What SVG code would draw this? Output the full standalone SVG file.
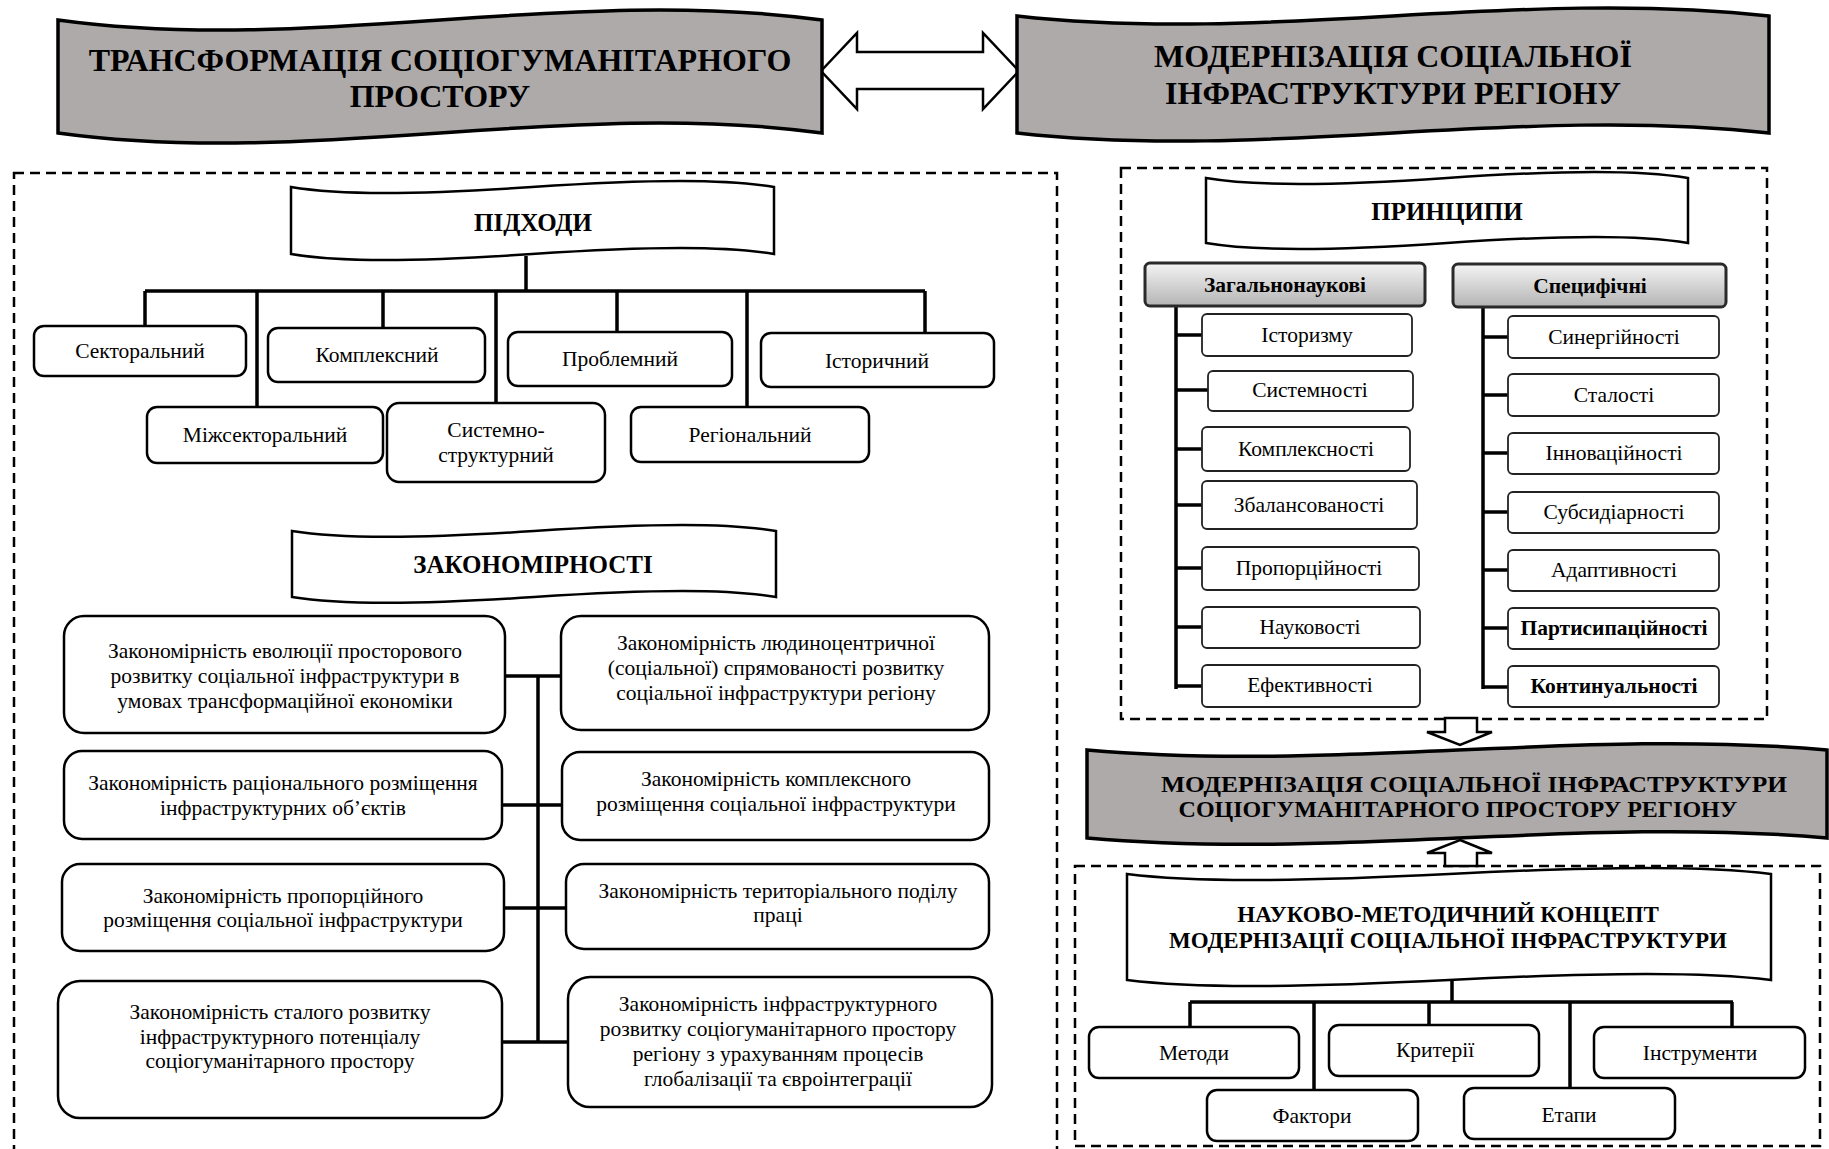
<svg xmlns="http://www.w3.org/2000/svg" width="1829" height="1149" viewBox="0 0 1829 1149">
<defs>
<style>
text{font-family:"Liberation Serif","Times New Roman",serif;fill:#000;text-anchor:middle}
.t{font-size:21.5px}
.tb{font-size:21.5px;font-weight:bold}
.h1{font-size:32px;font-weight:bold}
.h2{font-size:25px;font-weight:bold}
.h3{font-size:24px;font-weight:bold}
.h4{font-size:23px;font-weight:bold}
.gray{fill:#aeaaaa;stroke:#000;stroke-width:3.5}
.scroll{fill:#fff;stroke:#000;stroke-width:2.5}
.box{fill:#fff;stroke:#000;stroke-width:2.5}
.pbox{fill:#fff;stroke:#222;stroke-width:1.8}
.hdr{fill:url(#g);stroke:#2a2a2a;stroke-width:3}
.dash{fill:none;stroke:#000;stroke-width:2.5;stroke-dasharray:10 6}
.ln{fill:none;stroke:#000;stroke-width:3.5}
.blk{fill:#fff;stroke:#000;stroke-width:2.5;stroke-linejoin:miter}
</style>
<linearGradient id="g" x1="0" y1="0" x2="0" y2="1">
<stop offset="0" stop-color="#f4f4f4"/>
<stop offset="1" stop-color="#b4b4b4"/>
</linearGradient>
</defs>
<rect width="1829" height="1149" fill="#fff"/>

<!-- containers -->
<g id="containers">
<rect class="dash" x="14" y="173" width="1043" height="1000"/>
<rect class="dash" x="1121" y="168" width="646" height="551"/>
<rect class="dash" x="1075" y="866" width="745" height="280"/>
</g>

<!-- connectors -->
<g id="connectors">
<polygon class="blk" points="821,71 857,33 857,52 983,52 983,33 1019,71 983,109 983,89 857,89 857,109"/>
<polygon class="blk" points="1445,718 1477,718 1477,732 1492,732 1460,745 1427,732 1445,732"/>
<polygon class="blk" points="1460,840 1492,853 1477,853 1477,866 1445,866 1445,853 1427,853"/>
<path class="ln" d="M526,256 V291 M145,291 H925 M145,291 V326 M257,291 V407 M383,291 V328 M496,291 V403 M617,291 V332 M747,291 V407 M925,291 V333"/>
<path class="ln" d="M538,676 V1042 M505,676 H561 M502,805 H562 M504,908 H566 M502,1042 H568"/>
<path class="ln" d="M1176,306 V689 M1176,335 H1202 M1176,390 H1208 M1176,449 H1202 M1176,505 H1202 M1176,568 H1202 M1176,627 H1202 M1176,686 H1202"/>
<path class="ln" d="M1483,307 V689 M1483,337 H1508 M1483,395 H1508 M1483,453 H1508 M1483,512 H1508 M1483,570 H1508 M1483,628 H1508 M1483,687 H1508"/>
<path class="ln" d="M1452,975 V1002 M1190,1002 H1733 M1190,1002 V1027 M1314,1002 V1090 M1429,1002 V1025 M1570,1002 V1088 M1732,1002 V1027"/>
</g>

<!-- title banners -->
<g id="title-transform">
<path class="gray" d="M58,20 C312.7,55 567.3,-15 822,20 L822,133 C567.3,98 312.7,168 58,133 Z"/>
<text class="h1" x="440" y="71">ТРАНСФОРМАЦІЯ СОЦІОГУМАНІТАРНОГО</text>
<text class="h1" x="440" y="107">ПРОСТОРУ</text>
</g>
<g id="title-modern">
<path class="gray" d="M1017,16 C1267.7,44 1518.3,-12 1769,16 L1769,133 C1518.3,105 1267.7,161 1017,133 Z"/>
<text class="h1" x="1393" y="67">МОДЕРНІЗАЦІЯ СОЦІАЛЬНОЇ</text>
<text class="h1" x="1393" y="104">ІНФРАСТРУКТУРИ РЕГІОНУ</text>
</g>
<g id="title-result">
<path class="gray" d="M1087,750 C1334.3,772 1581.7,728 1827,750 L1827,838 C1581.7,816 1334.3,860 1087,838 Z"/>
<text class="h3" x="1474" y="792" textLength="626" lengthAdjust="spacingAndGlyphs">МОДЕРНІЗАЦІЯ СОЦІАЛЬНОЇ ІНФРАСТРУКТУРИ</text>
<text class="h3" x="1458" y="817">СОЦІОГУМАНІТАРНОГО ПРОСТОРУ РЕГІОНУ</text>
</g>

<!-- approaches -->
<g id="approaches">
<path class="scroll" d="M291,187 C339,195 412,195 532,187 C653,179 726,179 774,187 L774,254 C726,246 653,246 532,254 C412,262 339,262 291,254 Z"/>
<text class="h2" x="533" y="231">ПІДХОДИ</text>
</g>
<g id="a-sector"><rect class="box" x="34" y="326" width="212" height="50" rx="10"/><text class="t" x="140" y="358">Секторальний</text></g>
<g id="a-intersector"><rect class="box" x="147" y="407" width="236" height="56" rx="10"/><text class="t" x="265" y="442">Міжсекторальний</text></g>
<g id="a-complex"><rect class="box" x="268" y="328" width="217" height="54" rx="10"/><text class="t" x="377" y="362">Комплексний</text></g>
<g id="a-system"><rect class="box" x="387" y="403" width="218" height="79" rx="12"/><text class="t" x="496" y="437">Системно-</text><text class="t" x="496" y="462">структурний</text></g>
<g id="a-problem"><rect class="box" x="508" y="332" width="224" height="54" rx="10"/><text class="t" x="620" y="366">Проблемний</text></g>
<g id="a-regional"><rect class="box" x="631" y="407" width="238" height="55" rx="10"/><text class="t" x="750" y="442">Регіональний</text></g>
<g id="a-historic"><rect class="box" x="761" y="333" width="233" height="54" rx="10"/><text class="t" x="877" y="368">Історичний</text></g>

<!-- laws -->
<g id="laws">
<path class="scroll" d="M292,531 C340,539 414,539 534,531 C655,523 728,523 776,531 L776,597 C728,589 655,589 534,597 C414,605 340,605 292,597 Z"/>
<text class="h2" x="533" y="573">ЗАКОНОМІРНОСТІ</text>
</g>
<g id="l1"><rect class="box" x="64" y="616" width="441" height="117" rx="20"/>
<text class="t" x="285" y="658">Закономірність еволюції просторового</text>
<text class="t" x="285" y="683">розвитку соціальної інфраструктури в</text>
<text class="t" x="285" y="708">умовах трансформаційної економіки</text></g>
<g id="l2"><rect class="box" x="64" y="751" width="438" height="88" rx="18"/>
<text class="t" x="283" y="790">Закономірність раціонального розміщення</text>
<text class="t" x="283" y="815">інфраструктурних об’єктів</text></g>
<g id="l3"><rect class="box" x="62" y="864" width="442" height="87" rx="18"/>
<text class="t" x="283" y="903">Закономірність пропорційного</text>
<text class="t" x="283" y="927">розміщення соціальної інфраструктури</text></g>
<g id="l4"><rect class="box" x="58" y="981" width="444" height="137" rx="22"/>
<text class="t" x="280" y="1019">Закономірність сталого розвитку</text>
<text class="t" x="280" y="1044">інфраструктурного потенціалу</text>
<text class="t" x="280" y="1068">соціогуманітарного простору</text></g>
<g id="r1"><rect class="box" x="561" y="616" width="428" height="114" rx="20"/>
<text class="t" x="776" y="650">Закономірність людиноцентричної</text>
<text class="t" x="776" y="675">(соціальної) спрямованості розвитку</text>
<text class="t" x="776" y="700">соціальної інфраструктури регіону</text></g>
<g id="r2"><rect class="box" x="562" y="752" width="427" height="88" rx="18"/>
<text class="t" x="776" y="786">Закономірність комплексного</text>
<text class="t" x="776" y="811">розміщення соціальної інфраструктури</text></g>
<g id="r3"><rect class="box" x="566" y="864" width="423" height="85" rx="18"/>
<text class="t" x="778" y="898">Закономірність територіального поділу</text>
<text class="t" x="778" y="922">праці</text></g>
<g id="r4"><rect class="box" x="568" y="977" width="424" height="130" rx="22"/>
<text class="t" x="778" y="1011">Закономірність інфраструктурного</text>
<text class="t" x="778" y="1036">розвитку соціогуманітарного простору</text>
<text class="t" x="778" y="1061">регіону з урахуванням процесів</text>
<text class="t" x="778" y="1086">глобалізації та євроінтеграції</text></g>

<!-- principles -->
<g id="principles">
<path class="scroll" d="M1206,178 C1254,186 1327,186 1447,178 C1567,170 1640,170 1688,178 L1688,243 C1640,235 1567,235 1447,243 C1327,251 1254,251 1206,243 Z"/>
<text class="h2" x="1447" y="220">ПРИНЦИПИ</text>
</g>
<g id="p-general"><rect class="hdr" x="1145" y="263" width="280" height="43" rx="5"/><text class="tb" x="1285" y="292">Загальнонаукові</text></g>
<g id="p-specific"><rect class="hdr" x="1453" y="264" width="273" height="43" rx="5"/><text class="tb" x="1590" y="293">Специфічні</text></g>
<g id="pg1"><rect class="pbox" x="1202" y="314" width="210" height="42" rx="5"/><text class="t" x="1307" y="342">Історизму</text></g>
<g id="pg2"><rect class="pbox" x="1208" y="371" width="205" height="40" rx="5"/><text class="t" x="1310" y="397">Системності</text></g>
<g id="pg3"><rect class="pbox" x="1202" y="427" width="208" height="44" rx="5"/><text class="t" x="1306" y="456">Комплексності</text></g>
<g id="pg4"><rect class="pbox" x="1202" y="481" width="215" height="48" rx="5"/><text class="t" x="1309" y="512">Збалансованості</text></g>
<g id="pg5"><rect class="pbox" x="1202" y="547" width="217" height="43" rx="5"/><text class="t" x="1309" y="575">Пропорційності</text></g>
<g id="pg6"><rect class="pbox" x="1202" y="607" width="218" height="41" rx="5"/><text class="t" x="1310" y="634">Науковості</text></g>
<g id="pg7"><rect class="pbox" x="1202" y="665" width="218" height="42" rx="5"/><text class="t" x="1310" y="692">Ефективності</text></g>
<g id="ps1"><rect class="pbox" x="1508" y="316" width="211" height="42" rx="5"/><text class="t" x="1614" y="344">Синергійності</text></g>
<g id="ps2"><rect class="pbox" x="1508" y="374" width="211" height="42" rx="5"/><text class="t" x="1614" y="402">Сталості</text></g>
<g id="ps3"><rect class="pbox" x="1508" y="433" width="211" height="41" rx="5"/><text class="t" x="1614" y="460">Інноваційності</text></g>
<g id="ps4"><rect class="pbox" x="1508" y="492" width="211" height="41" rx="5"/><text class="t" x="1614" y="519">Субсидіарності</text></g>
<g id="ps5"><rect class="pbox" x="1508" y="550" width="211" height="41" rx="5"/><text class="t" x="1614" y="577">Адаптивності</text></g>
<g id="ps6"><rect class="pbox" x="1508" y="608" width="211" height="41" rx="5"/><text class="tb" x="1614" y="635">Партисипаційності</text></g>
<g id="ps7"><rect class="pbox" x="1508" y="666" width="211" height="41" rx="5"/><text class="tb" x="1614" y="693">Континуальності</text></g>

<!-- concept -->
<g id="concept">
<path class="scroll" d="M1127,874 C1191,882 1288,882 1449,874 C1610,866 1707,866 1771,874 L1771,980 C1707,972 1610,972 1449,980 C1288,988 1191,988 1127,980 Z"/>
<text class="h4" x="1448" y="922">НАУКОВО-МЕТОДИЧНИЙ КОНЦЕПТ</text>
<text class="h4" x="1448" y="948">МОДЕРНІЗАЦІЇ СОЦІАЛЬНОЇ ІНФРАСТРУКТУРИ</text>
</g>
<g id="c-methods"><rect class="box" x="1089" y="1027" width="210" height="51" rx="10"/><text class="t" x="1194" y="1060">Методи</text></g>
<g id="c-factors"><rect class="box" x="1207" y="1090" width="211" height="51" rx="10"/><text class="t" x="1312" y="1123">Фактори</text></g>
<g id="c-criteria"><rect class="box" x="1329" y="1025" width="210" height="51" rx="10"/><text class="t" x="1435" y="1057">Критерії</text></g>
<g id="c-stages"><rect class="box" x="1464" y="1088" width="211" height="51" rx="10"/><text class="t" x="1569" y="1122">Етапи</text></g>
<g id="c-tools"><rect class="box" x="1594" y="1027" width="211" height="51" rx="10"/><text class="t" x="1700" y="1060">Інструменти</text></g>
</svg>
